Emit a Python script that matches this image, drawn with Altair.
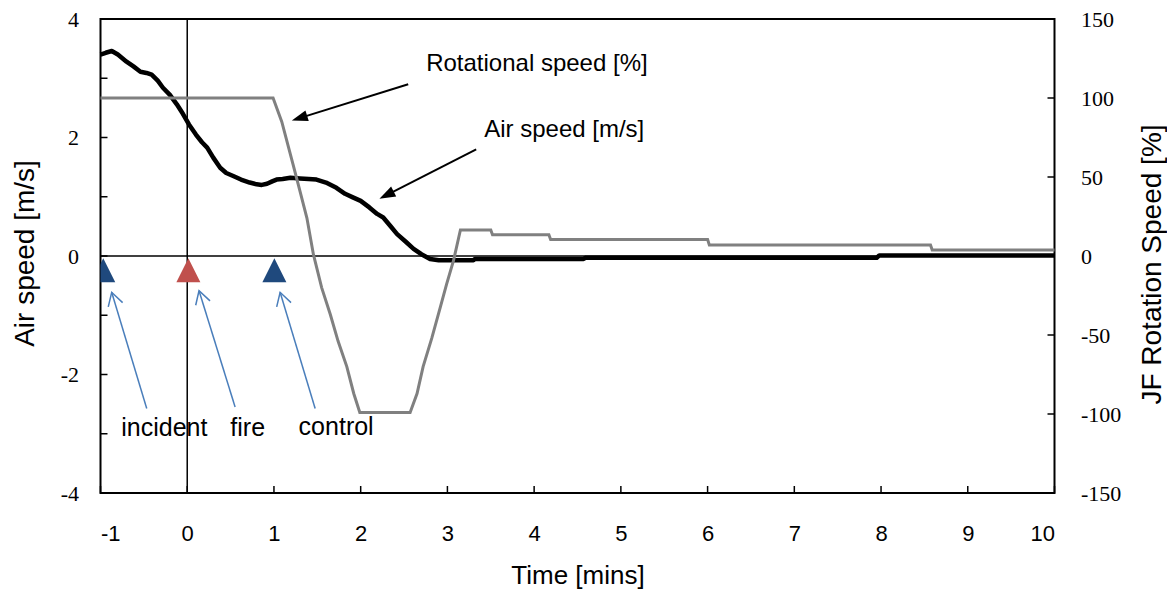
import math
import altair as alt
import pandas as pd

# ---------------- data ----------------
air_t = [-1.0, -0.94, -0.87, -0.80, -0.70, -0.62, -0.54, -0.47, -0.41, -0.34, -0.28, -0.20,
         -0.12, -0.05, 0.02, 0.10, 0.17, 0.23, 0.30, 0.38, 0.45, 0.53, 0.62, 0.72, 0.80, 0.86,
         0.92, 0.98, 1.03, 1.10, 1.19, 1.30, 1.40, 1.49, 1.60, 1.72, 1.82, 1.91, 2.00, 2.10,
         2.19, 2.26, 2.34, 2.42, 2.52, 2.61, 2.70, 2.80, 2.90, 3.03, 3.30, 3.32, 4.57, 4.59,
         7.95, 7.98, 10.0]
air_v = [3.40, 3.43, 3.46, 3.40, 3.28, 3.20, 3.11, 3.09, 3.06, 2.96, 2.84, 2.72,
         2.56, 2.40, 2.22, 2.05, 1.92, 1.83, 1.66, 1.49, 1.40, 1.35, 1.29, 1.24, 1.21, 1.20,
         1.22, 1.26, 1.29, 1.30, 1.32, 1.31, 1.30, 1.29, 1.24, 1.15, 1.05, 0.99, 0.93, 0.82,
         0.71, 0.65, 0.51, 0.37, 0.24, 0.12, 0.03, -0.05, -0.07, -0.07, -0.07, -0.05, -0.05, -0.03,
         -0.03, 0.01, 0.01]

rot_t = [-1.0, 0.99, 1.09, 1.22, 1.30, 1.38, 1.455, 1.55, 1.65, 1.74, 1.84, 1.92, 1.99,
         2.57, 2.65, 2.72, 2.82, 2.92, 2.99, 3.07, 3.15, 3.50, 3.52, 4.17, 4.19, 6.00, 6.02,
         8.57, 8.59, 10.0]
rot_v = [100, 100, 85, 58, 41, 24, 1, -20, -37, -54, -70, -87, -99,
         -99, -87, -70, -52, -32, -18, -3, 16.5, 16.5, 13.5, 13.5, 10.5, 10.5, 7.0,
         7.0, 3.8, 3.8]

marker_t = [-0.968, 0.013, 1.005]
marker_v = [-0.24, -0.24, -0.24]
marker_color = ["#1F497D", "#C0504D", "#1F497D"]

event_labels = ["incident", "fire", "control"]
event_label_t = [-0.264, 0.697, 1.717]
event_label_v = [-2.91, -2.91, -2.89]
event_tail_t = [-0.467, 0.552, 1.475]
event_tail_v = [-2.575, -2.548, -2.575]
event_tip_t = [-0.871, 0.136, 1.071]
event_tip_v = [-0.613, -0.585, -0.613]

series_labels = ["Rotational speed [%]", "Air speed [m/s]"]
series_label_t = [4.032, 4.347]
series_label_v = [3.234, 2.124]
series_tail_t = [2.548, 3.332]
series_tail_v = [2.898, 1.799]
series_tip_t = [1.206, 2.216]
series_tip_v = [2.287, 0.968]

x_ticks = list(range(-1, 11))
left_ticks = [-4, -2, 0, 2, 4]
left_all_ticks = list(range(-4, 5))
right_ticks = [-150, -100, -50, 0, 50, 100, 150]

# ---------------- layout / style ----------------
W, H = 954, 474
X_DOM, YL_DOM, YR_DOM = [-1, 10], [-4, 4], [-150, 150]
sx = W / (X_DOM[1] - X_DOM[0])
sy = H / (YL_DOM[1] - YL_DOM[0])
SANS = "Liberation Sans"
SERIF = "Liberation Serif"
BLUE_ARROW = "#4A7EBB"


def heads(tail_t, tail_v, tip_t, tip_v, half):
    rows = []
    for a, b, c, d in zip(tail_t, tail_v, tip_t, tip_v):
        dx = (c - a) * sx
        dy = -(d - b) * sy
        L = math.hypot(dx, dy)
        ux, uy = dx / L, dy / L
        ang = math.degrees(math.atan2(ux, -uy)) % 360
        rows.append({"t": c - half * ux / sx, "v": d + half * uy / sy, "ang": ang})
    return pd.DataFrame(rows)


xscale = alt.Scale(domain=X_DOM, nice=False, zero=False)
ylscale = alt.Scale(domain=YL_DOM, nice=False, zero=False)
yrscale = alt.Scale(domain=YR_DOM, nice=False, zero=False)

x_axis = alt.Axis(values=x_ticks, labelExpr="'' + datum.value", title="Time [mins]", grid=False,
                  ticks=False, domain=False, labelFont=SANS, labelFontSize=22, labelColor="black",
                  labelPadding=30, titleFont=SANS, titleFontSize=26, titleFontWeight="normal",
                  titleColor="black", titleX=477, titleY=82, titleAlign="center",
                  titleBaseline="middle")
yl_axis = alt.Axis(values=left_ticks, labelExpr="'' + datum.value", title="Air speed [m/s]",
                   orient="left", grid=False, ticks=False, domain=False, labelFont=SERIF,
                   labelFontSize=22, labelColor="black", labelPadding=22, titleFont=SANS,
                   titleFontSize=28, titleFontWeight="normal", titleColor="black", titleAngle=270,
                   titleX=-75, titleY=234, titleAlign="center", titleBaseline="middle")
yr_axis = alt.Axis(values=right_ticks, labelExpr="'' + datum.value", title="JF Rotation Speed [%]",
                   orient="right", grid=False, ticks=False, domain=False, labelFont=SERIF,
                   labelFontSize=22, labelColor="black", labelPadding=26, labelAlign="left",
                   titleFont=SANS, titleFontSize=28, titleFontWeight="normal", titleColor="black",
                   titleAngle=270, titleX=98, titleY=245, titleAlign="center",
                   titleBaseline="middle")


def X(f):
    return alt.X(f"{f}:Q", scale=xscale, axis=x_axis)


def YL(f):
    return alt.Y(f"{f}:Q", scale=ylscale, axis=yl_axis)


def YLn(f):
    return alt.Y(f"{f}:Q", scale=ylscale, axis=None)


def YR(f):
    return alt.Y(f"{f}:Q", scale=yrscale, axis=yr_axis)


air_df = pd.DataFrame({"t": air_t, "v": air_v})
rot_df = pd.DataFrame({"t": rot_t, "v": rot_v})

# ---- layer A1: zero lines + air speed ----
zero_v = alt.Chart(pd.DataFrame({"t": [0]})).mark_rule(color="black", strokeWidth=1.5).encode(x=X("t"))
zero_h = alt.Chart(pd.DataFrame({"v": [0]})).mark_rule(color="black", strokeWidth=1.5).encode(y=YL("v"))
air_line = alt.Chart(air_df).mark_line(color="black", strokeWidth=4.5, strokeJoin="round").encode(
    x=X("t"), y=YL("v"), order="t:Q")
A1 = alt.layer(zero_v, zero_h, air_line)

# ---- layer B: rotational speed (right axis) ----
rot_line = alt.Chart(rot_df).mark_line(color="#808080", strokeWidth=3).encode(
    x=X("t"), y=YR("v"), order="t:Q")
rticks = alt.Chart(pd.DataFrame({"v": right_ticks})).mark_rule(color="black", strokeWidth=1.5).encode(
    y=YR("v"), x=alt.value(W - 7), x2=alt.value(W))
B = alt.layer(rot_line, rticks)

# ---- layer A2: annotations, ticks ----
lticks = alt.Chart(pd.DataFrame({"v": left_all_ticks})).mark_rule(color="black", strokeWidth=1.5).encode(
    y=YLn("v"), x=alt.value(0), x2=alt.value(7))
bticks = alt.Chart(pd.DataFrame({"t": x_ticks})).mark_rule(color="black", strokeWidth=1.5).encode(
    x=X("t"), y=alt.value(H), y2=alt.value(H - 7))

markers = alt.Chart(pd.DataFrame({"t": marker_t, "v": marker_v, "c": marker_color})).mark_point(
    shape="M0,-1L1,1L-1,1Z", size=576, filled=True, opacity=1, clip=True).encode(
    x=X("t"), y=YLn("v"), color=alt.Color("c:N", scale=None))

ev_df = pd.DataFrame({"t": event_tail_t, "v": event_tail_v, "t2": event_tip_t, "v2": event_tip_v})
ev_lines = alt.Chart(ev_df).mark_rule(color=BLUE_ARROW, strokeWidth=1.5).encode(
    x=X("t"), y=YLn("v"), x2="t2:Q", y2="v2:Q")
ev_heads = alt.Chart(heads(event_tail_t, event_tail_v, event_tip_t, event_tip_v, 7.5)).mark_point(
    shape="M-1,0.732L0,-1L1,0.732", size=225, filled=False, color=BLUE_ARROW, strokeWidth=1.5,
    opacity=1).encode(x=X("t"), y=YLn("v"), angle=alt.Angle("ang:Q", scale=None))
ev_text = alt.Chart(pd.DataFrame({"t": event_label_t, "v": event_label_v, "s": event_labels})).mark_text(
    font=SANS, fontSize=25, color="black", align="center", baseline="middle").encode(
    x=X("t"), y=YLn("v"), text="s:N")

sh = heads(series_tail_t, series_tail_v, series_tip_t, series_tip_v, 8)
se_df = pd.DataFrame({"t": series_tail_t, "v": series_tail_v, "t2": sh["t"], "v2": sh["v"]})
se_lines = alt.Chart(se_df).mark_rule(color="black", strokeWidth=2).encode(
    x=X("t"), y=YLn("v"), x2="t2:Q", y2="v2:Q")
se_heads = alt.Chart(sh).mark_point(
    shape="M0,-1L0.7,1L-0.7,1Z", size=256, filled=True, color="black", opacity=1).encode(
    x=X("t"), y=YLn("v"), angle=alt.Angle("ang:Q", scale=None))
se_text = alt.Chart(pd.DataFrame({"t": series_label_t, "v": series_label_v, "s": series_labels})).mark_text(
    font=SANS, fontSize=24, color="black", align="center", baseline="middle").encode(
    x=X("t"), y=YLn("v"), text="s:N")

A2 = alt.layer(lticks, bticks, markers, ev_lines, ev_heads, ev_text, se_lines, se_heads, se_text)

chart = alt.layer(A1, B, A2).resolve_scale(y="independent").properties(
    width=W, height=H,
    padding={"left": 92.5, "top": 11, "right": 112, "bottom": 96},
    autosize=alt.AutoSizeParams(type="none"),
    background="white",
).configure_view(stroke="black", strokeWidth=2)

chart.save("out.html", embed_options={"renderer": "svg", "actions": False})
